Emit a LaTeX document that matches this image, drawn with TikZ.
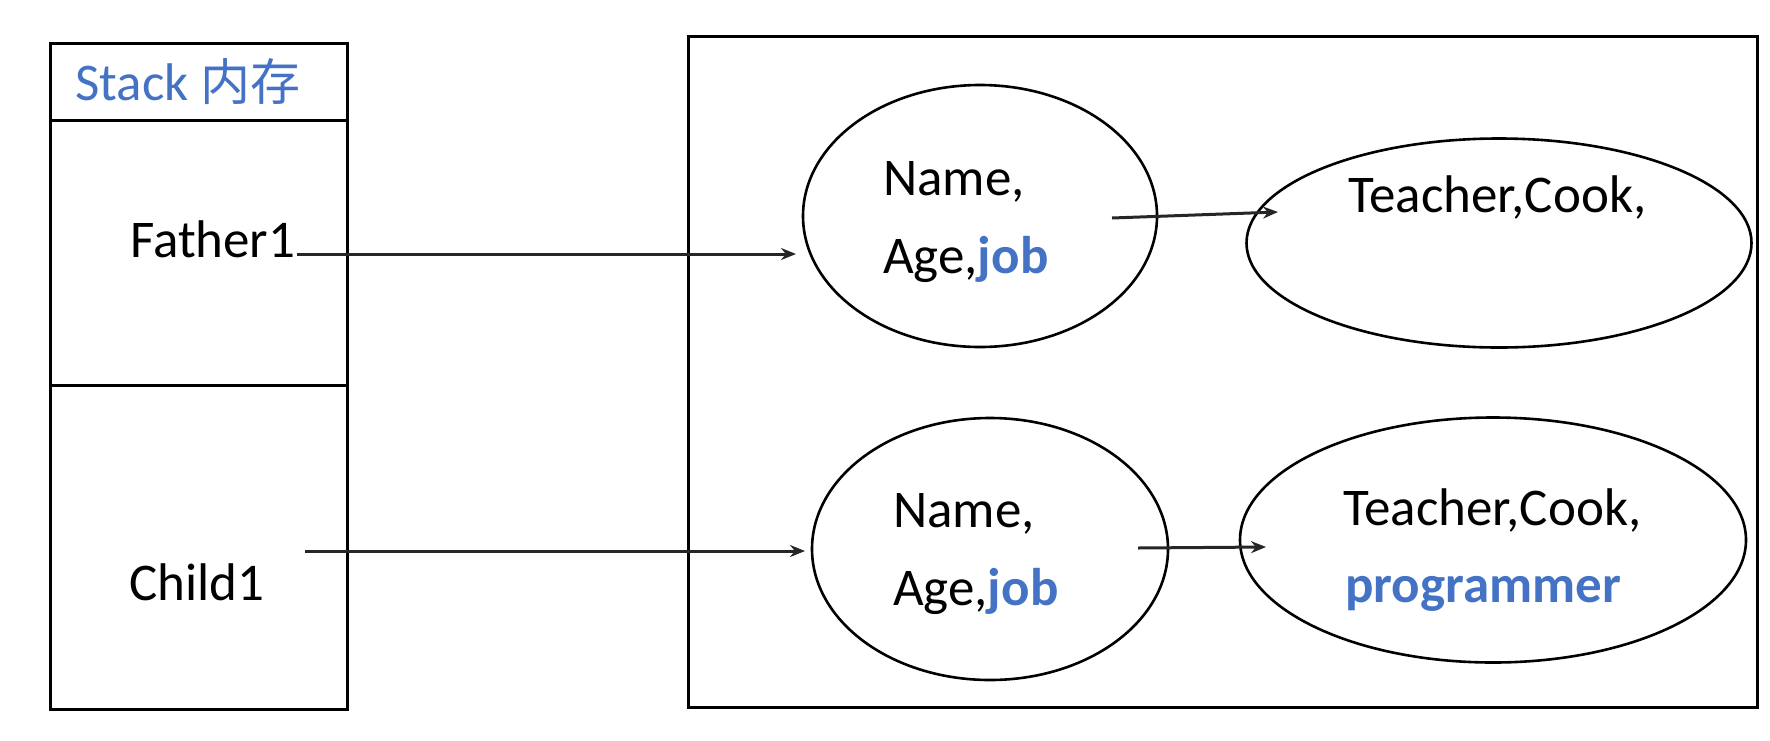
\documentclass[tikz,border=0pt]{standalone}
\usepackage{fontspec}
\setmainfont{Carlito}
\newfontfamily\cjk{Noto Sans CJK SC}
\usetikzlibrary{shapes.geometric,arrows.meta}
\definecolor{ablue}{HTML}{4472C4}
\tikzset{
  ell/.style={draw=black, line width=2.6pt, ellipse, inner sep=0pt},
  txt/.style={inner sep=0pt, anchor=base west, font=\fontsize{53}{64}\selectfont},
  hl/.style={text=ablue, font=\fontsize{53}{64}\selectfont\bfseries},
  conn/.style={draw=black!85, line width=3pt, -{Stealth[length=15pt,width=12pt]}},
  frame/.style={draw=black, line width=3pt}
}
\begin{document}
\begin{tikzpicture}[x=1pt,y=-1pt]
\useasboundingbox (0,0) rectangle (1770,740);
% stack box
\draw[frame] (50,43) rectangle (347,709);
\draw[frame] (50,120) -- (347,120);
\draw[frame] (50,385) -- (347,385);
\node[txt, text=ablue] (stack) at (75,100) {Stack {\cjk\fontsize{50}{60}\selectfont 内存}};
% heap box
\draw[frame] (688,36) rectangle (1757,707);
% ellipses
\node[ell, minimum width=354pt, minimum height=262pt] (e1) at (980,216) {};
\node[ell, minimum width=505pt, minimum height=209pt] (e2) at (1499,243) {};
\node[ell, minimum width=356pt, minimum height=262pt] (e3) at (990,549) {};
\node[ell, minimum width=506pt, minimum height=245pt] (e4) at (1493,540) {};
% texts
\node[txt] (father) at (130,257) {Father1};
\node[txt] (child) at (129,600) {Child1};
\node[txt] (n1) at (883,195) {Name,};
\node[txt] (a1) at (883,273) {Age,{\color{ablue}\bfseries job}};
\node[txt] (t1) at (1348,212) {Teacher,Cook,};
\node[txt] (n2) at (893,527) {Name,};
\node[txt] (a2) at (893,605) {Age,{\color{ablue}\bfseries job}};
\node[txt] (t2) at (1343,525) {Teacher,Cook,};
\node[txt, hl] (p2) at (1345,602) {programmer};
% connector end points
\coordinate (fs) at (297,254);
\coordinate (fe) at (796,254);
\coordinate (cs) at (305,551);
\coordinate (ce) at (805,551);
\coordinate (us) at (1112,218);
\coordinate (ue) at (1278,212);
\coordinate (ds) at (1138,548);
\coordinate (de) at (1266,547);
\draw[conn] (fs) -- (fe);
\draw[conn] (cs) -- (ce);
\draw[conn] (us) -- (ue);
\draw[conn] (ds) -- (de);
\end{tikzpicture}
\end{document}
